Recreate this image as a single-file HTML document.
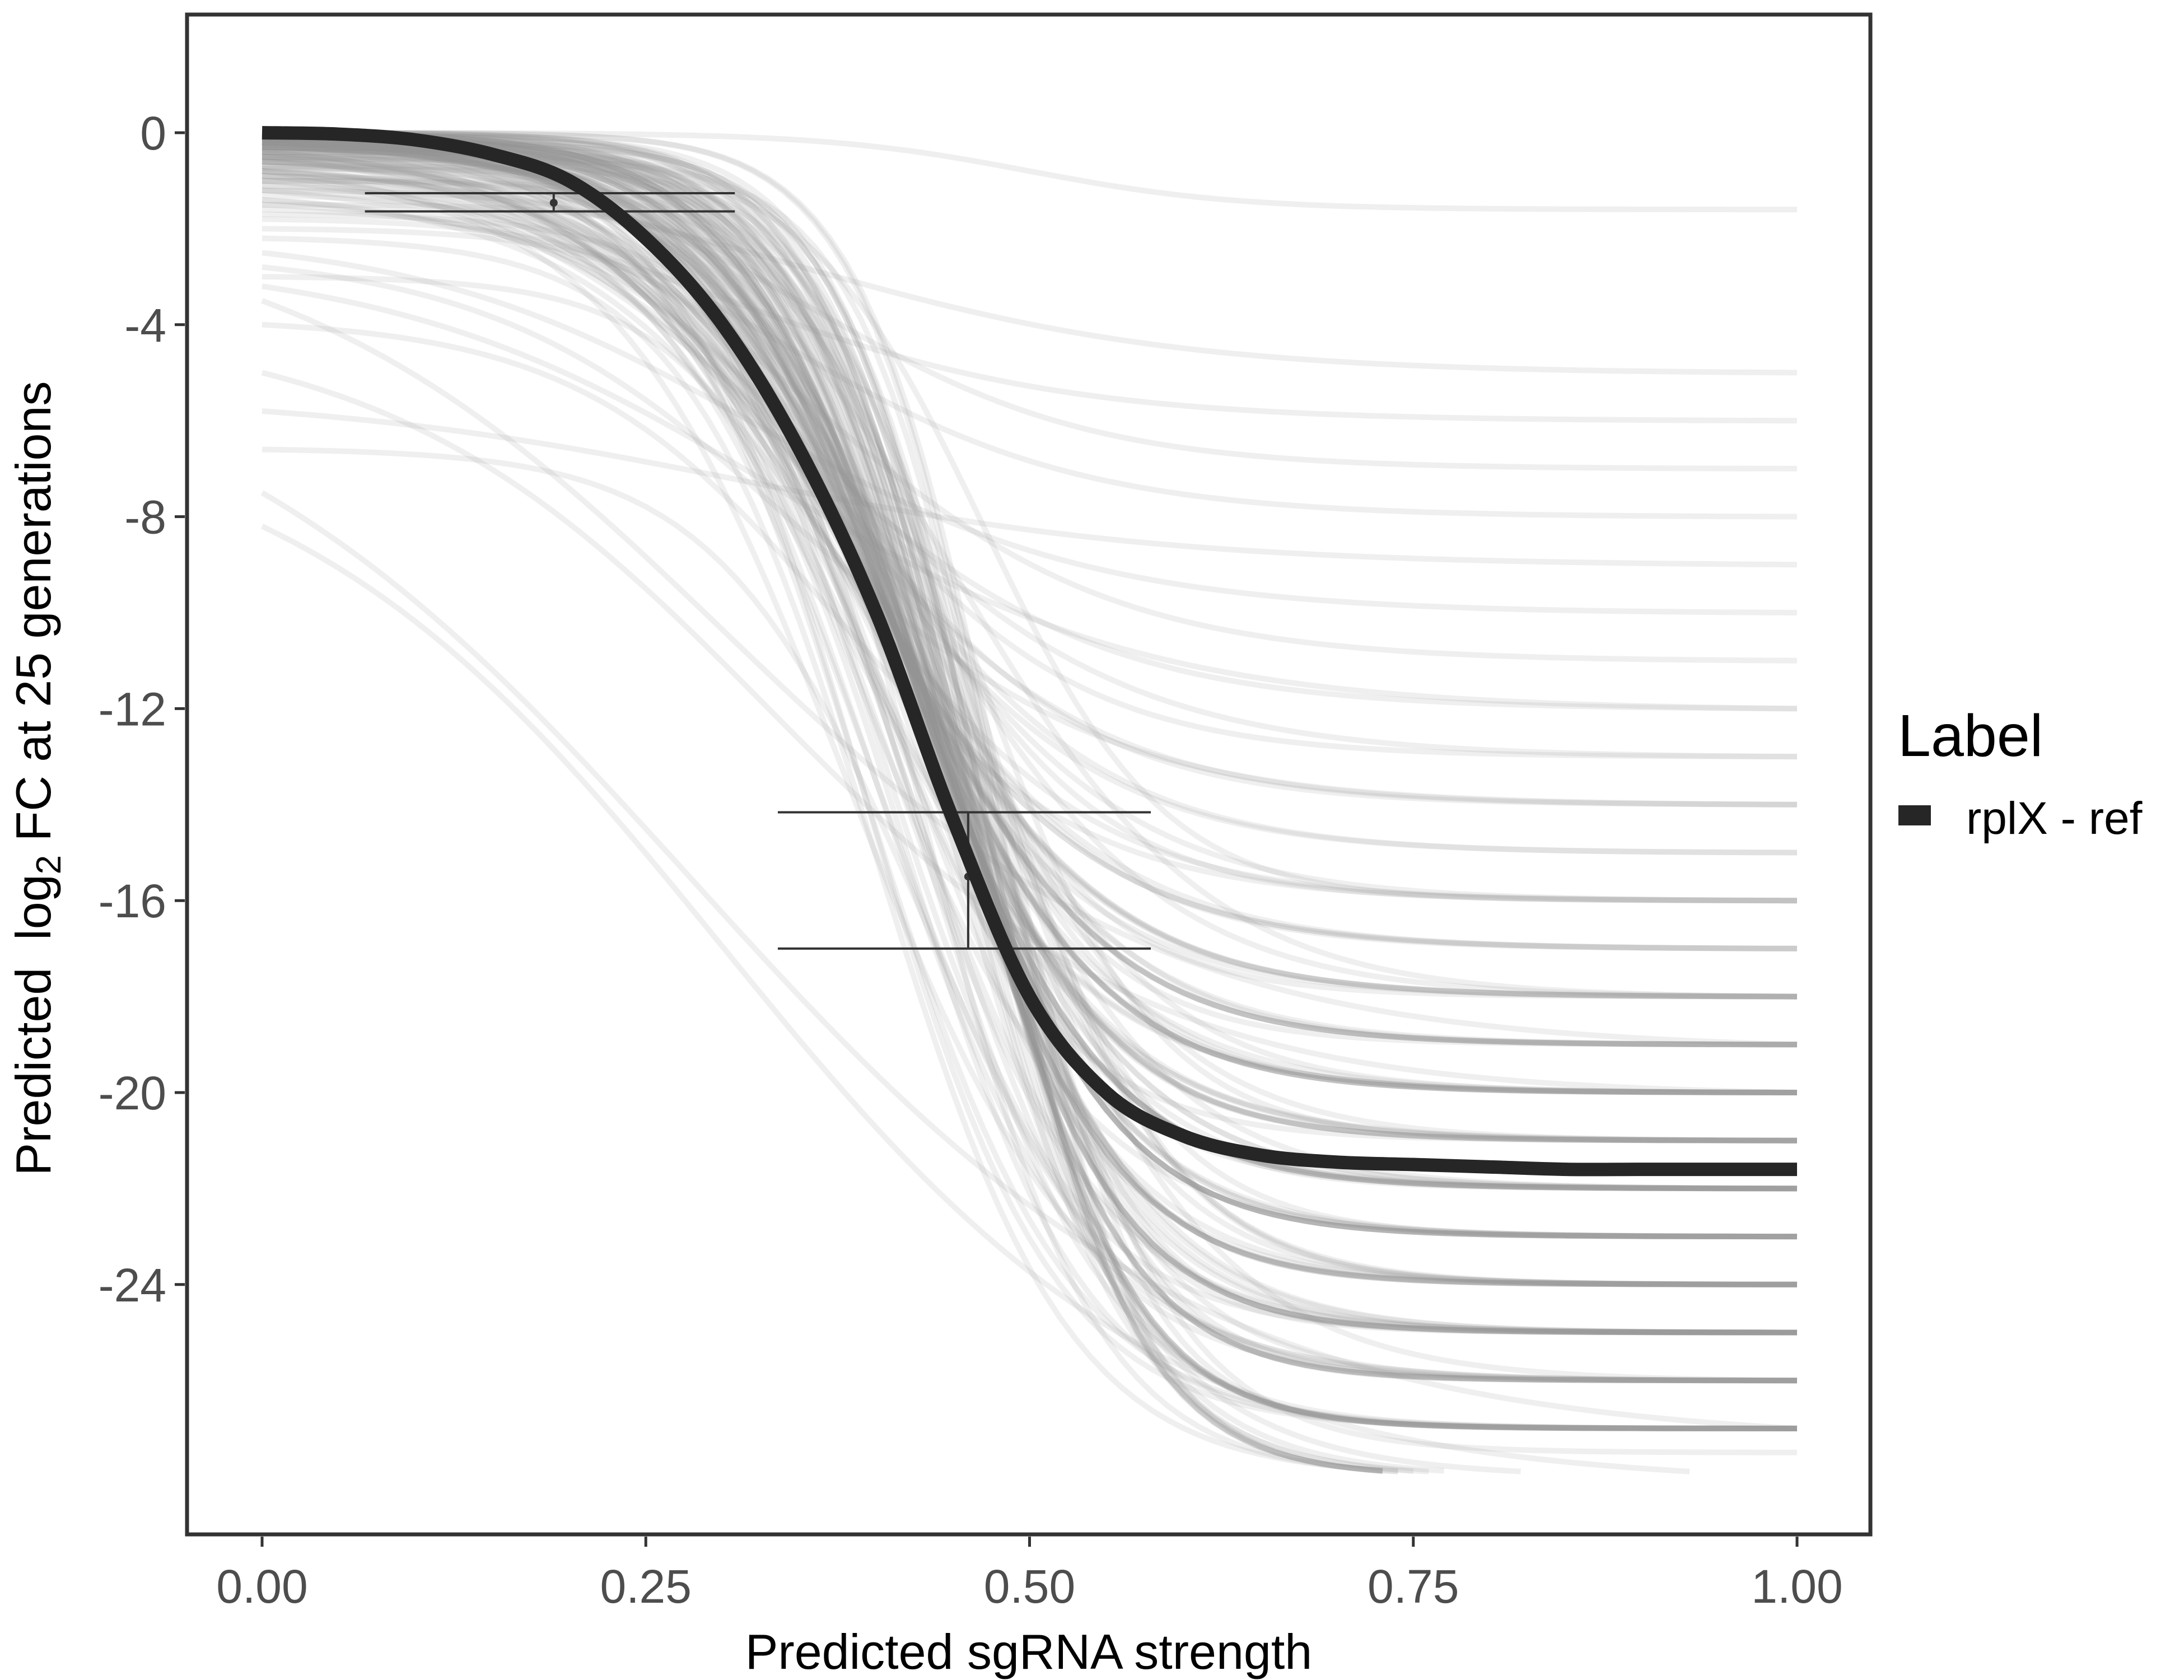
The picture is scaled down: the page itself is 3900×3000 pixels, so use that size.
<!DOCTYPE html>
<html><head><meta charset="utf-8"><style>
html,body{margin:0;padding:0;background:#fff;}
svg{display:block;font-family:"Liberation Sans",Arial,sans-serif;}
</style></head><body>
<svg id="chart" width="3900" height="3000" viewBox="0 0 3900 3000" xmlns="http://www.w3.org/2000/svg">
<rect x="0" y="0" width="3900" height="3000" fill="#fff"/>
<g id="spaghetti"></g>
<g id="errbars"></g>
<path id="mainCurve" fill="none" stroke="#262626" stroke-width="24" stroke-linejoin="round"/>
<rect x="334" y="26" width="3006" height="2714" fill="none" stroke="#333" stroke-width="7"/>
<g id="xaxis"></g>
<g id="yaxis"></g>
<text x="1837" y="2980" font-size="88" text-anchor="middle" fill="#000">Predicted sgRNA strength</text>
<text transform="translate(90,1390) rotate(-90)" font-size="88" text-anchor="middle" fill="#000" xml:space="preserve">Predicted  log<tspan font-size="62" dy="18">2</tspan><tspan dy="-18"> FC at 25 generations</tspan></text>
<text x="3389" y="1350" font-size="106" fill="#000">Label</text>
<rect x="3390" y="1438" width="58" height="36" fill="#262626"/>
<text x="3511" y="1489" font-size="82" fill="#000">rplX - ref</text>
</svg>
<script>
const xTicks=[0,0.25,0.5,0.75,1.0];
const xTickLabels=["0.00","0.25","0.50","0.75","1.00"];
const yTicks=[0,-4,-8,-12,-16,-20,-24];
const yTickLabels=["0","-4","-8","-12","-16","-20","-24"];
const mainX=[0,0.05,0.1,0.15,0.2,0.25,0.3,0.35,0.4,0.45,0.5,0.55,0.6,0.65,0.7,0.75,0.8,0.85,0.9,0.95,1.0];
const mainY=[0,-0.03,-0.15,-0.45,-1.0,-2.2,-4.0,-6.6,-10.0,-14.3,-18.0,-20.0,-20.9,-21.3,-21.45,-21.5,-21.55,-21.6,-21.6,-21.6,-21.6];
const errX=[0.19,0.46];
const errY=[-1.46,-15.5];
const errLo=[-1.64,-17.0];
const errHi=[-1.26,-14.16];
const errXmin=[0.067,0.336];
const errXmax=[0.308,0.579];
const curveStart=[0,-0.1,-0.2,-0.3,-0.1,-0.5,-0.8,-0.2,-0.4,-1.0,-0.3,-0.6,-1.2,-0.1,-0.2,-1.5,-0.4,-0.7,-2.0,-0.3,-0.5,-0.9,-0.2,-1.1,-2.5,-0.1,-0.6,-3.0,-0.4,-0.8,-1.3,-0.2,-3.5,-0.5,-1.7,-0.3,-4.0,-0.7,-1.0,-0.2,-5.0,-0.4,-1.4,-0.6,-5.8,-0.3,-0.9,-2.2,-0.1,-6.6,-0.5,-1.2,-0.2,-7.5,-0.8,-0.4,-1.8,-8.2,-0.3,-0.6,-1.0,-0.2,-2.8,-0.5,-0.1,-1.5,-0.7,-0.3,-3.2,-0.4,-0.9,-0.2,-1.1,-0.6,-0.3,-0.1,-1.6,-0.5,-0.8,-0.2,
0,-0.1,0,-0.2,-0.05,-0.3,0,-0.1,-0.4,-0.2,0,-0.15,-0.6,-0.05,-0.25,0,-0.1,-0.8,-0.3,0,-0.05,-0.2,-0.5,0,-0.1,-0.35,-1.0,-0.05,0,-0.2,-0.1,-0.45,0,-0.7,-0.15,-0.05,-0.3,0,-1.2,-0.1,0,-0.2,-0.05,-0.55,-0.1,0,-0.25,-0.9,-0.05,-0.15,0,-0.4,-0.1,-0.05,-0.2,0,-1.4,-0.1,-0.3,0,-0.05,-0.6,-0.15,0,-0.2,-0.1,-0.35,0,-0.05,-0.75,-0.1,0,-0.25,-0.5,-0.05,0,-0.15,-0.3,-0.1,0];
const curveEnd=[-1.6,-22,-25,-18,-27,-20,-5,-24,-16,-28,-21,-26,-6,-23,-19,-27.5,-17,-8,-25,-22,-28,-14,-20,-26,-10,-24,-18,-27,-21,-12,-25,-23,-19,-7,-26,-28,-16,-22,-24,-11,-20,-27,-15,-25,-9,-23,-21,-28,-18,-26,-13,-24,-22,-27,-20,-17,-25,-28,-19,-23,-26,-21,-14,-24,-27,-16,-22,-25,-12,-28,-20,-23,-26,-18,-24,-27,-21,-25,-19,-22,
-18,-22,-25,-20,-27,-16,-24,-19,-26,-21,-28,-23,-17,-25,-20,-27,-22,-14,-24,-26,-19,-28,-21,-23,-25,-18,-27,-20,-24,-22,-26,-15,-23,-28,-19,-25,-21,-27,-17,-24,-22,-26,-20,-28,-23,-18,-25,-21,-27,-24,-19,-26,-22,-28,-20,-23,-16,-25,-27,-21,-24,-18,-26,-22,-28,-20,-25,-23,-13,-27,-21,-24,-19,-26,-22,-28,-25,-20,-23,-27];
const curveMid=[0.5,0.42,0.40,0.45,0.44,0.38,0.35,0.41,0.47,0.43,0.39,0.46,0.3,0.42,0.40,0.48,0.37,0.33,0.44,0.41,0.45,0.36,0.43,0.40,0.32,0.46,0.38,0.42,0.44,0.34,0.41,0.39,0.30,0.36,0.45,0.43,0.37,0.40,0.47,0.35,0.33,0.42,0.38,0.44,0.31,0.46,0.41,0.40,0.39,0.43,0.36,0.45,0.42,0.28,0.40,0.37,0.44,0.30,0.41,0.43,0.38,0.46,0.35,0.42,0.39,0.40,0.44,0.41,0.33,0.45,0.38,0.43,0.40,0.42,0.47,0.39,0.41,0.44,0.40,0.42,
0.41,0.44,0.46,0.42,0.45,0.40,0.43,0.41,0.47,0.39,0.46,0.43,0.38,0.45,0.41,0.48,0.42,0.37,0.44,0.46,0.40,0.47,0.42,0.43,0.45,0.39,0.46,0.41,0.44,0.42,0.45,0.38,0.43,0.47,0.40,0.44,0.42,0.46,0.39,0.43,0.41,0.45,0.40,0.48,0.43,0.39,0.44,0.42,0.46,0.43,0.40,0.45,0.42,0.47,0.41,0.43,0.37,0.44,0.46,0.42,0.43,0.39,0.45,0.42,0.47,0.41,0.44,0.43,0.36,0.46,0.42,0.44,0.40,0.45,0.42,0.48,0.44,0.41,0.43,0.46];
const curveSteep=[15,14,16,12,18,13,8,15,17,14,16,13,9,15,14,18,12,10,16,15,17,11,14,15,9,16,13,17,14,10,15,14,7,11,16,18,12,15,17,10,8,16,12,15,7,17,14,16,13,15,10,16,14,6,13,12,15,7,14,16,13,17,10,15,16,12,14,15,8,18,13,16,14,12,17,15,14,16,13,15,
16,18,20,15,19,14,17,16,21,13,19,17,12,20,15,22,16,12,18,19,14,21,16,17,19,13,20,15,18,16,19,12,17,21,14,18,16,20,13,17,15,19,14,22,17,13,18,16,20,17,14,19,16,21,15,17,12,18,20,16,17,13,19,16,21,15,18,17,12,20,16,18,14,19,16,22,18,15,17,20];
const floorVal=-27.9;

const NS="http://www.w3.org/2000/svg";
const X0=468,X1=3209,Y0=237,PU=85.7;
function sx(v){return X0+(X1-X0)*v;}
function sy(v){return Y0-v*PU;}
function mk(t,a,p){const e=document.createElementNS(NS,t);for(const k in a)e.setAttribute(k,a[k]);p.appendChild(e);return e;}

const sp=document.getElementById('spaghetti');
for(let i=0;i<curveStart.length;i++){
  const a=curveStart[i],b=curveEnd[i],m=curveMid[i],k=curveSteep[i];
  const l0=1/(1+Math.exp(-k*m)), l1=1/(1+Math.exp(k*(1-m)));
  let d="";
  for(let j=0;j<=100;j++){
    const x=j/100;
    const l=1/(1+Math.exp(k*(x-m)));
    const f=(l-l1)/(l0-l1);
    const v=b+(a-b)*f;
    if(v<floorVal)break;
    d+=(j?"L":"M")+sx(x).toFixed(1)+" "+sy(v).toFixed(1);
  }
  const p=mk('path',{d:d,fill:'none',stroke:'rgb(150,150,150)','stroke-opacity':'0.15','stroke-width':'10'},sp);
  
  
}

(function(){
  const pts=mainX.map((x,i)=>[sx(x),sy(mainY[i])]);
  let d="M"+pts[0][0]+" "+pts[0][1];
  for(let i=0;i<pts.length-1;i++){
    const p0=pts[Math.max(0,i-1)],p1=pts[i],p2=pts[i+1],p3=pts[Math.min(pts.length-1,i+2)];
    const c1=[p1[0]+(p2[0]-p0[0])/6,p1[1]+(p2[1]-p0[1])/6];
    const c2=[p2[0]-(p3[0]-p1[0])/6,p2[1]-(p3[1]-p1[1])/6];
    d+="C"+c1[0]+" "+c1[1]+" "+c2[0]+" "+c2[1]+" "+p2[0]+" "+p2[1];
  }
  document.getElementById('mainCurve').setAttribute('d',d);
})();

const eb=document.getElementById('errbars');
for(let i=0;i<errX.length;i++){
  const g=mk('g',{},eb);
  
  
  mk('line',{x1:sx(errXmin[i]),x2:sx(errXmax[i]),y1:sy(errHi[i]),y2:sy(errHi[i]),stroke:'#333','stroke-width':4},g);
  mk('line',{x1:sx(errXmin[i]),x2:sx(errXmax[i]),y1:sy(errLo[i]),y2:sy(errLo[i]),stroke:'#333','stroke-width':4},g);
  mk('line',{x1:sx(errX[i]),x2:sx(errX[i]),y1:sy(errHi[i]),y2:sy(errLo[i]),stroke:'#333','stroke-width':4},g);
  const c=mk('circle',{cx:sx(errX[i]),cy:sy(errY[i]),r:7,fill:'#333'},g);
  
  
}

const xa=document.getElementById('xaxis');
xTicks.forEach((v,i)=>{
  const l=mk('line',{x1:sx(v),x2:sx(v),y1:2744,y2:2762,stroke:'#333','stroke-width':5},xa);
  
  
  const t=mk('text',{x:sx(v),y:2862,'font-size':84,'text-anchor':'middle',fill:'#4d4d4d'},xa);
  
  
  t.textContent=xTickLabels[i];
});
const ya=document.getElementById('yaxis');
yTicks.forEach((v,i)=>{
  const l=mk('line',{x1:312,x2:330,y1:sy(v),y2:sy(v),stroke:'#333','stroke-width':5},ya);
  
  
  const t=mk('text',{x:297,y:sy(v)+30,'font-size':84,'text-anchor':'end',fill:'#4d4d4d'},ya);
  
  
  t.textContent=yTickLabels[i];
});
</script>
</body></html>
